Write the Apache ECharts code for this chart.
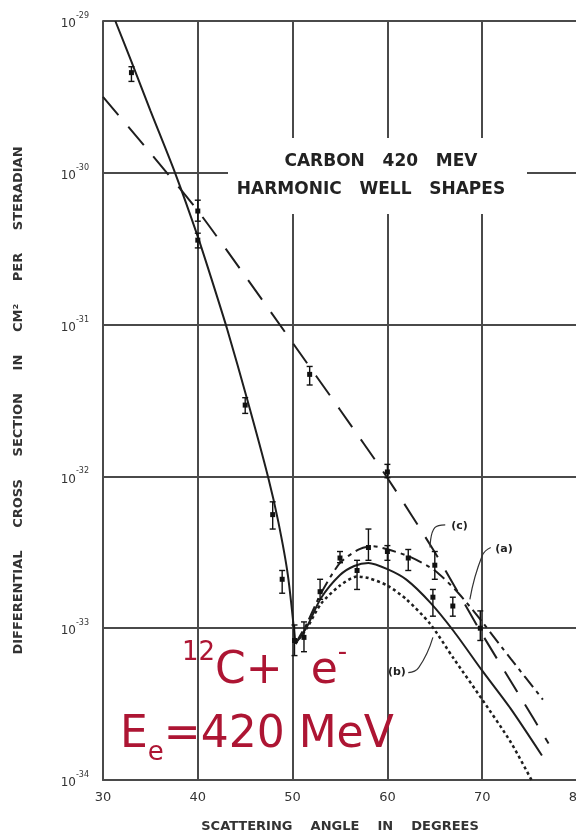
<!DOCTYPE html>
<html>
<head>
<meta charset="utf-8">
<script src="https://cdn.jsdelivr.net/npm/echarts@6/dist/echarts.min.js"></script>
<style>
  html, body { margin: 0; padding: 0; background: #fff; }
  #chart { width: 576px; height: 838px; }
</style>
</head>
<body>
<div id="chart"></div>
<script>
// Scattering angle (degrees) and differential cross section (cm^2 / sr)

// Steep solid curve down to the diffraction minimum
const angleFall = [31.3, 33, 35, 37.6, 40, 41.5, 43.1, 45.2, 47.4, 48.5, 49.5, 50.3];
const sigmaFall = [1.0e-29, 5.4e-30, 2.57e-30, 1.0e-30, 3.8e-31, 1.95e-31, 9.33e-32, 3.24e-32, 1.0e-32, 5.0e-33, 2.24e-33, 7.9e-34];

// Curve (a): solid, beyond the minimum
const angleA = [50.3, 51.5, 53, 55, 56.5, 58, 60, 62, 64.5, 67, 70, 73, 76.3];
const sigmaA = [7.9e-34, 1.02e-33, 1.58e-33, 2.24e-33, 2.57e-33, 2.69e-33, 2.45e-33, 2.09e-33, 1.48e-33, 9.55e-34, 5.25e-34, 2.95e-34, 1.45e-34];

// Curve (c): dash-dot, highest branch
const angleC = [50.3, 51.5, 53, 55, 57, 58.5, 60, 62.4, 65, 67.5, 70, 73, 76.4];
const sigmaC = [7.9e-34, 1.07e-33, 1.70e-33, 2.69e-33, 3.31e-33, 3.47e-33, 3.31e-33, 2.95e-33, 2.40e-33, 1.70e-33, 1.10e-33, 6.3e-34, 3.39e-34];

// Curve (b): dotted, lowest branch
const angleB = [50.3, 51.5, 53, 55, 56.8, 58, 60, 62, 64.5, 67, 70, 73, 75.2];
const sigmaB = [7.9e-34, 1.0e-33, 1.45e-33, 1.91e-33, 2.19e-33, 2.14e-33, 1.91e-33, 1.55e-33, 1.07e-33, 6.3e-34, 3.39e-34, 1.78e-34, 1.0e-34];

// Long-dashed curve
const angleDash = [30, 35, 40, 45, 50, 55, 60, 65, 70, 74, 77];
const sigmaDash = [3.16e-30, 1.35e-30, 5.62e-31, 2.09e-31, 7.59e-32, 2.75e-32, 9.77e-33, 3.16e-33, 9.12e-34, 3.55e-34, 1.74e-34];

// Measured points with error bars
const ptAngle = [33, 40, 40, 45, 51.8, 47.9, 48.9, 50.2, 51.2, 52.9, 55.0, 56.8, 58.0, 60.0, 60.0, 62.2, 65.0, 64.8, 66.9, 69.8];
const ptSigma = [4.57e-30, 5.6e-31, 3.6e-31, 2.95e-32, 4.7e-32, 5.6e-33, 2.1e-33, 8.3e-34, 8.7e-34, 1.74e-33, 2.9e-33, 2.4e-33, 3.4e-33, 1.07e-32, 3.2e-33, 2.9e-33, 2.6e-33, 1.6e-33, 1.4e-33, 1.0e-33];
const ptLow   = [4.0e-30, 4.8e-31, 3.2e-31, 2.6e-32, 4.0e-32, 4.5e-33, 1.7e-33, 6.6e-34, 7.0e-34, 1.55e-33, 2.7e-33, 1.8e-33, 2.8e-33, 9.8e-33, 2.8e-33, 2.4e-33, 2.1e-33, 1.2e-33, 1.2e-33, 8.3e-34];
const ptHigh  = [5.0e-30, 6.6e-31, 4.0e-31, 3.3e-32, 5.3e-32, 6.8e-33, 2.4e-33, 1.05e-33, 1.1e-33, 2.1e-33, 3.2e-33, 2.8e-33, 4.5e-33, 1.2e-32, 3.5e-33, 3.3e-33, 3.2e-33, 1.8e-33, 1.6e-33, 1.3e-33];

// Curve labels and their leader lines
const curveLabels = ['(c)', '(a)', '(b)'];
const labelAngle = [67.6, 72.3, 61.0];
const labelSigma = [4.7e-33, 3.3e-33, 5.1e-34];
const leaderC = [[66.1, 4.8e-33], [65.0, 4.6e-33], [64.5, 3.4e-33]];
const leaderA = [[70.9, 3.4e-33], [70.0, 3.0e-33], [68.7, 1.55e-33]];
const leaderB = [[62.2, 5.1e-34], [63.3, 5.5e-34], [64.8, 8.7e-34]];

// Axis ticks
const xTicks = [30, 40, 50, 60, 70, 80];
const yExponents = [-34, -33, -32, -31, -30, -29];

// The log axis works in multiples of 1e-34 cm^2 so its tick rounding stays well inside double precision
const UNIT_EXP = yExponents[0];
const UNIT = Math.pow(10, UNIT_EXP);
const inUnits = (v) => v / UNIT;

const INK = '#1e1e1e';
const GRID = '#4a4a4a';
const LABEL_FONT = 'DejaVu Sans';
const RED = '#ad1533';

const pairs = (xs, ys) => xs.map((x, i) => [x, inUnits(ys[i])]);

const chart = echarts.init(document.getElementById('chart'), null, { renderer: 'canvas' });

const curve = (name, xs, ys, type, width) => ({
  name, type: 'line', data: pairs(xs, ys), smooth: 0.25, symbol: 'none',
  lineStyle: { color: INK, width: width, type: type }, z: 3, silent: true
});

const leader = (pts) => ({
  type: 'line', data: pts.map(p => [p[0], inUnits(p[1])]), smooth: 0.5, symbol: 'none',
  lineStyle: { color: '#333', width: 1.2 }, z: 4, silent: true
});

chart.setOption({
  animation: false,
  backgroundColor: '#fff',
  grid: { left: 103, top: 21, width: 474, height: 759, outerBoundsMode: 'none', containLabel: false },
  xAxis: {
    type: 'value', min: xTicks[0], max: xTicks[xTicks.length - 1], interval: 10,
    axisLine: { show: true, lineStyle: { color: GRID, width: 2 } },
    axisTick: { show: false },
    axisLabel: { color: '#333', fontSize: 13, fontFamily: LABEL_FONT, margin: 11, hideOverlap: false },
    splitLine: { show: true, lineStyle: { color: GRID, width: 2 } },
    name: 'SCATTERING    ANGLE    IN    DEGREES',
    nameLocation: 'middle', nameGap: 40,
    nameTextStyle: { color: '#333', fontSize: 13, fontWeight: 'bold', fontFamily: LABEL_FONT }
  },
  yAxis: {
    type: 'log', logBase: 10,
    min: 1, max: Math.pow(10, yExponents[yExponents.length - 1] - UNIT_EXP),
    axisLine: { show: true, lineStyle: { color: GRID, width: 2 } },
    axisTick: { show: false },
    axisLabel: {
      margin: 14,
      formatter: (v) => '{b|10}{s|' + (Math.round(Math.log10(v)) + UNIT_EXP) + '}',
      rich: {
        b: { fontSize: 12, color: '#333', fontFamily: LABEL_FONT, lineHeight: 18, verticalAlign: 'bottom' },
        s: { fontSize: 8, color: '#333', fontFamily: LABEL_FONT, verticalAlign: 'top' }
      }
    },
    splitLine: { show: true, lineStyle: { color: GRID, width: 2 } },
    name: 'DIFFERENTIAL     CROSS     SECTION     IN     CM\u00B2     PER     STERADIAN',
    nameLocation: 'middle', nameGap: 78, nameRotate: 90,
    nameTextStyle: { color: '#333', fontSize: 13, fontWeight: 'bold', fontFamily: LABEL_FONT }
  },
  graphic: [
    {
      type: 'rect', shape: { x: 228, y: 138, width: 299, height: 76 },
      style: { fill: '#fff' }, z: 1
    },
    {
      type: 'text', x: 381, y: 162, z: 2,
      style: { text: 'CARBON   420   MEV', fill: '#222', font: 'bold 17px "DejaVu Sans"', textAlign: 'center', textVerticalAlign: 'middle' }
    },
    {
      type: 'text', x: 371, y: 190, z: 2,
      style: { text: 'HARMONIC   WELL   SHAPES', fill: '#222', font: 'bold 17px "DejaVu Sans"', textAlign: 'center', textVerticalAlign: 'middle' }
    },
    {
      type: 'text', left: 182, top: 640, z: 5,
      style: {
        text: '{sup|12}{big|C+  e}{sup|-}',
        rich: {
          big: { fontSize: 44, fill: RED, fontFamily: LABEL_FONT, lineHeight: 54, verticalAlign: 'bottom' },
          sup: { fontSize: 26, fill: RED, fontFamily: LABEL_FONT, verticalAlign: 'top' }
        }
      }
    },
    {
      type: 'text', left: 120, top: 714, z: 5,
      style: {
        text: '{big|E}{sub|e}{big|=420 MeV}',
        rich: {
          big: { fontSize: 44, fill: RED, fontFamily: LABEL_FONT, lineHeight: 52, verticalAlign: 'top' },
          sub: { fontSize: 26, fill: RED, fontFamily: LABEL_FONT, verticalAlign: 'bottom' }
        }
      }
    }
  ],
  series: [
    curve('dashed', angleDash, sigmaDash, [24, 15], 2),
    curve('fall', angleFall, sigmaFall, 'solid', 2),
    curve('a', angleA, sigmaA, 'solid', 2),
    curve('c', angleC, sigmaC, [14, 5, 4, 5], 2),
    curve('b', angleB, sigmaB, [3, 3], 2.5),
    leader(leaderC), leader(leaderA), leader(leaderB),
    {
      type: 'custom', name: 'data', z: 5, silent: true,
      data: ptAngle.map((x, i) => [x, inUnits(ptSigma[i]), inUnits(ptLow[i]), inUnits(ptHigh[i])]),
      renderItem: (params, api) => {
        const p = api.coord([api.value(0), api.value(1)]);
        const lo = api.coord([api.value(0), api.value(2)]);
        const hi = api.coord([api.value(0), api.value(3)]);
        const st = { stroke: '#111', lineWidth: 1.4 };
        return {
          type: 'group',
          children: [
            { type: 'line', shape: { x1: lo[0], y1: lo[1], x2: hi[0], y2: hi[1] }, style: st },
            { type: 'line', shape: { x1: lo[0] - 3, y1: lo[1], x2: lo[0] + 3, y2: lo[1] }, style: st },
            { type: 'line', shape: { x1: hi[0] - 3, y1: hi[1], x2: hi[0] + 3, y2: hi[1] }, style: st },
            { type: 'rect', shape: { x: p[0] - 2.5, y: p[1] - 2.5, width: 5, height: 5 }, style: { fill: '#111' } }
          ]
        };
      }
    },
    {
      type: 'custom', name: 'labels', z: 6, silent: true,
      data: curveLabels.map((t, i) => [labelAngle[i], inUnits(labelSigma[i]), i]),
      renderItem: (params, api) => {
        const p = api.coord([api.value(0), api.value(1)]);
        return {
          type: 'text', x: p[0], y: p[1],
          style: { text: curveLabels[api.value(2)], fill: '#222', font: 'bold 11px "DejaVu Sans"', textAlign: 'center', textVerticalAlign: 'middle' }
        };
      }
    }
  ]
});
</script>
</body>
</html>
